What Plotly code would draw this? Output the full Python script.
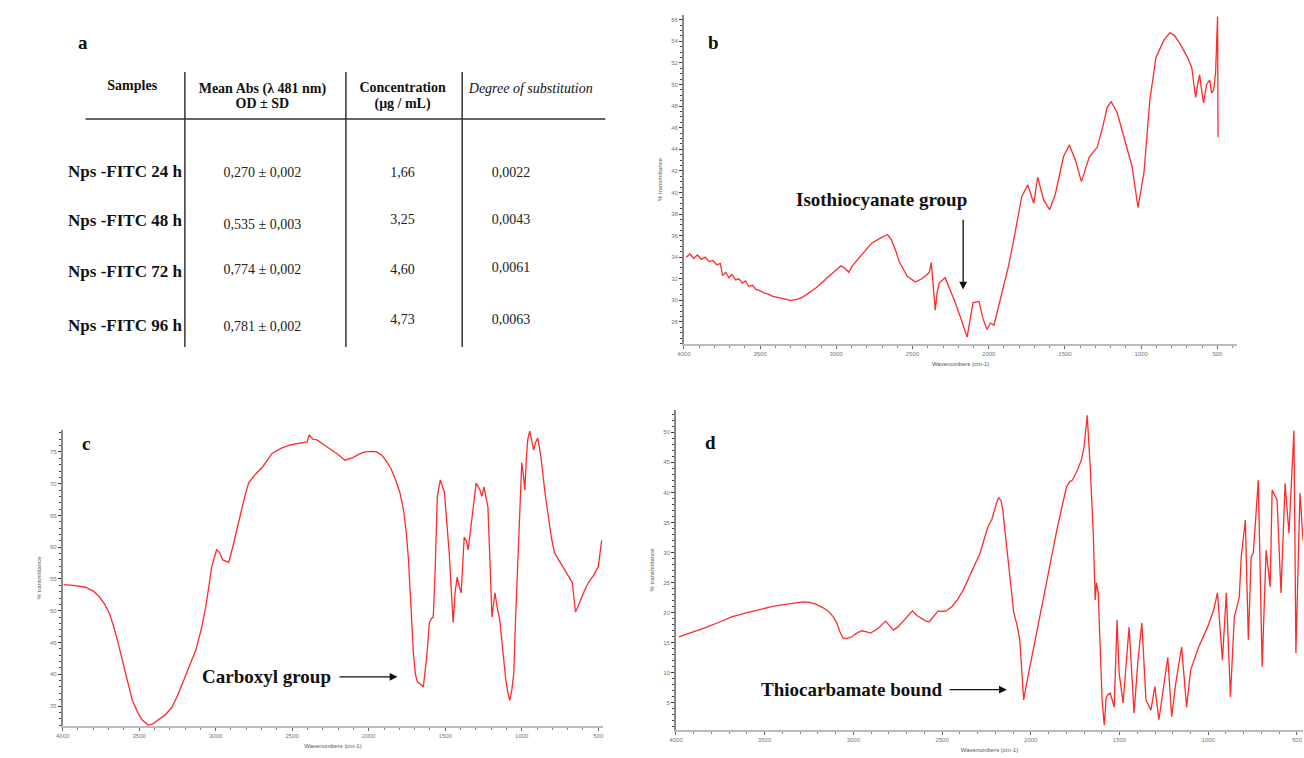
import plotly.graph_objects as go

W, H = 1304, 758

# ---------------- Panel a : table data ----------------
samples = ["Nps -FITC 24 h", "Nps -FITC 48 h", "Nps -FITC 72 h", "Nps -FITC 96 h"]
mean_abs = ["0,270 ± 0,002", "0,535 ± 0,003", "0,774 ± 0,002", "0,781 ± 0,002"]
concentration = ["1,66", "3,25", "4,60", "4,73"]
degree = ["0,0022", "0,0043", "0,0061", "0,0063"]
headers_line1 = ["Samples", "Mean Abs (λ 481 nm)", "Concentration", "Degree of substitution"]
headers_line2 = ["OD ± SD", "(μg / mL)"]

# ---------------- Panel b : FTIR spectrum ----------------
b_wn = [3985, 3960, 3935, 3910, 3885, 3860, 3835, 3810, 3785, 3760, 3746, 3725, 3705, 3685,
        3660, 3640, 3615, 3595, 3575, 3550, 3525, 3500, 3475, 3450, 3420, 3390, 3361, 3330,
        3300, 3257, 3220, 3179, 3130, 3074, 3020, 2970, 2945, 2918, 2895, 2866, 2820, 2768,
        2720, 2664, 2638, 2610, 2585, 2533, 2481, 2440, 2403, 2390, 2377, 2365, 2351, 2338,
        2325, 2286, 2250, 2220, 2180, 2142, 2120, 2103, 2064, 2040, 2012, 1990, 1966, 1914,
        1870, 1836, 1784, 1744, 1705, 1679, 1640, 1601, 1562, 1510, 1471, 1432, 1392, 1365,
        1340, 1288, 1250, 1223, 1197, 1158, 1112, 1060, 1021, 982, 943, 903, 851, 812, 780,
        747, 700, 669, 656, 643, 630, 617, 604, 591, 571, 551, 538, 525, 512, 499, 496]
b_t = [34.0, 34.3, 33.9, 34.2, 33.8, 34.0, 33.6, 33.7, 33.3, 33.4, 32.3, 32.6, 32.1, 32.4,
       31.9, 32.0, 31.6, 31.8, 31.3, 31.4, 31.0, 30.9, 30.7, 30.6, 30.4, 30.3, 30.2, 30.1,
       30.0, 30.1, 30.3, 30.7, 31.2, 31.9, 32.6, 33.2, 33.0, 32.6, 33.2, 33.7, 34.5, 35.3,
       35.7, 36.1, 35.6, 34.6, 33.5, 32.2, 31.7, 32.0, 32.4, 32.6, 33.5, 31.0, 29.1, 30.8,
       31.6, 32.1, 30.9, 29.8, 28.2, 26.6, 28.4, 29.8, 29.9, 28.4, 27.3, 27.9, 27.7, 30.7,
       33.2, 35.6, 39.6, 40.7, 39.0, 41.4, 39.3, 38.4, 39.9, 43.3, 44.4, 43.0, 41.0, 42.2,
       43.3, 44.2, 46.2, 47.9, 48.4, 47.4, 45.1, 42.4, 38.6, 41.8, 48.6, 52.5, 54.1, 54.8, 54.5,
       53.8, 52.6, 51.6, 50.2, 48.8, 50.0, 50.9, 49.5, 48.3, 50.0, 50.4, 49.2, 49.5, 51.1, 56.3, 45.1]

# ---------------- Panel c : FTIR spectrum ----------------
c_wn = [3994, 3930, 3851, 3800, 3760, 3725, 3695, 3670, 3643, 3591, 3545, 3510, 3480, 3442,
        3410, 3377, 3330, 3286, 3250, 3208, 3170, 3130, 3095, 3065, 3045, 3026, 2994, 2975,
        2954, 2915, 2889, 2860, 2837, 2810, 2785, 2740, 2695, 2660, 2630, 2570, 2513, 2450,
        2402, 2389, 2365, 2338, 2300, 2260, 2200, 2156, 2104, 2060, 2026, 1980, 1948, 1915,
        1889, 1855, 1824, 1795, 1773, 1755, 1740, 1725, 1708, 1695, 1682, 1665, 1643, 1620,
        1604, 1590, 1578, 1565, 1552, 1532, 1506, 1490, 1474, 1460, 1448, 1435, 1422, 1410,
        1396, 1376, 1362, 1350, 1325, 1298, 1273, 1260, 1247, 1221, 1208, 1195, 1185, 1175,
        1160, 1143, 1125, 1104, 1090, 1078, 1065, 1052, 1040, 1026, 1012, 1000, 990, 980, 970,
        961, 948, 935, 922, 910, 896, 883, 870, 848, 825, 805, 786, 755, 721, 690, 669, 659,
        649, 635, 617, 590, 565, 530, 500, 488, 478]
c_t = [54.1, 54.0, 53.7, 53.1, 52.2, 51.0, 49.6, 47.8, 45.4, 40.2, 35.9, 34.0, 32.8, 32.0,
       32.2, 32.8, 33.6, 34.8, 36.6, 39.1, 41.3, 43.8, 47.0, 50.6, 53.8, 56.9, 59.6, 59.2,
       58.0, 57.6, 60.0, 63.0, 65.4, 68.0, 70.1, 71.5, 72.6, 73.8, 74.8, 75.6, 76.1, 76.4,
       76.6, 77.7, 77.0, 76.9, 76.2, 75.6, 74.6, 73.7, 74.1, 74.7, 75.0, 75.1, 75.0, 74.5,
       73.7, 72.4, 70.6, 68.5, 65.9, 62.5, 58.0, 50.0, 43.3, 40.0, 38.8, 38.5, 38.0, 43.0,
       48.1, 48.8, 49.0, 57.0, 67.9, 70.6, 68.7, 64.0, 59.1, 53.0, 48.1, 53.0, 55.3, 54.0,
       52.8, 61.6, 61.0, 59.6, 64.5, 70.1, 69.0, 68.0, 69.5, 66.3, 58.0, 49.0, 51.0, 52.8,
       50.5, 48.5, 44.0, 39.1, 37.0, 35.9, 37.5, 40.2, 49.0, 58.0, 66.0, 73.3, 71.5, 69.0, 74.0,
       76.9, 78.3, 77.0, 75.3, 76.5, 77.2, 75.5, 73.3, 68.5, 64.3, 61.3, 59.1, 57.8, 56.4, 55.3, 54.4, 52.0,
       49.8, 50.5, 51.7, 53.2, 54.4, 55.6, 56.9, 59.0, 61.1]

# ---------------- Panel d : FTIR spectrum ----------------
d_wn = [3983, 3900, 3826, 3750, 3686, 3600, 3518, 3460, 3401, 3340, 3283, 3245, 3210, 3175,
        3143, 3115, 3093, 3075, 3059, 3040, 3009, 2980, 2953, 2925, 2902, 2860, 2818, 2795,
        2774, 2750, 2723, 2695, 2667, 2640, 2617, 2590, 2572, 2545, 2522, 2500, 2477, 2445,
        2415, 2380, 2348, 2315, 2286, 2260, 2242, 2220, 2202, 2190, 2180, 2168, 2158, 2140,
        2118, 2096, 2078, 2062, 2050, 2040, 2025, 2012, 1995, 1978, 1950, 1917, 1885, 1850,
        1825, 1799, 1780, 1766, 1740, 1715, 1700, 1682, 1665, 1648, 1637, 1630, 1620, 1605,
        1598, 1586, 1575, 1553, 1530, 1514, 1502, 1480, 1446, 1418, 1396, 1374, 1351, 1323,
        1301, 1278, 1256, 1228, 1206, 1183, 1150, 1122, 1099, 1054, 1004, 970, 948, 920, 898,
        875, 853, 825, 814, 791, 774, 758, 746, 718, 696, 674, 651, 640, 612, 590, 567, 545,
        517, 506, 483, 466]
d_t = [16.0, 16.8, 17.6, 18.5, 19.3, 20.0, 20.6, 21.0, 21.3, 21.6, 21.8, 21.7, 21.4, 20.9,
       20.3, 19.4, 18.3, 16.8, 15.8, 15.7, 16.0, 16.6, 17.0, 16.8, 16.6, 17.4, 18.6, 17.8,
       17.1, 17.6, 18.5, 19.5, 20.3, 19.5, 19.1, 18.6, 18.5, 19.5, 20.3, 20.2, 20.3, 21.0,
       22.1, 23.8, 25.8, 27.8, 29.9, 32.5, 34.2, 35.5, 37.6, 38.5, 39.1, 38.7, 37.1, 32.0,
       26.6, 20.0, 18.0, 15.5, 10.0, 5.5, 8.0, 10.0, 12.5, 15.0, 19.5, 24.3, 29.0, 34.2,
       37.5, 40.9, 41.8, 42.0, 43.5, 45.4, 47.5, 52.8, 44.2, 33.2, 22.1, 25.0, 23.3, 12.0,
       5.5, 1.3, 6.0, 6.7, 4.3, 18.8, 10.0, 5.0, 17.6, 3.3, 12.1, 18.3, 5.5, 3.8,
       7.7, 2.2, 7.2, 12.6, 2.7, 8.3, 14.3, 4.3, 10.5, 14.3, 17.6, 20.4, 23.3, 12.1, 23.3,
       6.0, 19.3, 22.6, 29.3, 35.4, 15.5, 29.3, 29.9, 42.0, 11.0, 30.4, 24.3, 40.4, 38.7, 23.3, 41.5, 33.2,
       50.3, 13.3, 39.9, 32.1]

b_yticks = list(range(28, 57, 2))
c_yticks = list(range(35, 76, 5))
d_yticks = list(range(5, 51, 5))
x_ticks = [4000, 3500, 3000, 2500, 2000, 1500, 1000, 500]

RED = "#ff2a2a"
SERIF = "Liberation Serif, Times New Roman, serif"

fig = go.Figure()

fig.add_trace(go.Scatter(x=b_wn, y=b_t, mode="lines", line=dict(color=RED, width=1.3),
                         xaxis="x", yaxis="y", showlegend=False, hoverinfo="skip"))
fig.add_trace(go.Scatter(x=c_wn, y=c_t, mode="lines", line=dict(color=RED, width=1.3),
                         xaxis="x2", yaxis="y2", showlegend=False, hoverinfo="skip"))
fig.add_trace(go.Scatter(x=d_wn, y=d_t, mode="lines", line=dict(color=RED, width=1.3),
                         xaxis="x3", yaxis="y3", showlegend=False, hoverinfo="skip"))

# ---------------- table (panel a) on a pixel-like axis ----------------
col_x = [176, 257, 398, 507]          # layout: column anchor positions
row_y_label = [173, 222, 273, 327]
row_y_abs = [173, 225, 270, 327]
row_y_conc = [173, 220, 270, 320]
row_y_deg = [173, 220, 268, 320]
tfont = dict(family=SERIF, size=14, color="#222")


def txt(xs, ys, texts, pos, font):
    fig.add_trace(go.Scatter(x=xs, y=ys, mode="text", text=texts, textposition=pos,
                             textfont=font, xaxis="x5", yaxis="y5",
                             showlegend=False, hoverinfo="skip"))


txt([col_x[0]] * 4, row_y_label, ["<b>" + s + "</b>" for s in samples], "middle left",
    dict(family=SERIF, size=17, color="#111"))
txt([col_x[1]] * 4, row_y_abs, mean_abs, "middle center", tfont)
txt([col_x[2]] * 4, row_y_conc, concentration, "middle center", tfont)
txt([col_x[3]] * 4, row_y_deg, degree, "middle center", tfont)
hfont = dict(family=SERIF, size=14, color="#111")
txt([126, 257, 398], [86, 89, 88], ["<b>" + h + "</b>" for h in headers_line1[:3]],
    "middle center", hfont)
txt([527], [89], ["<i>" + headers_line1[3] + "</i>"], "middle center", hfont)
txt([257, 398], [104, 104], ["<b>" + h + "</b>" for h in headers_line2], "middle center", hfont)

shapes = [
    dict(type="line", xref="x5", yref="y5", x0=79, x1=602, y0=119, y1=119,
         line=dict(color="#666", width=2)),
]
for vx in [179, 341, 458]:
    shapes.append(dict(type="line", xref="x5", yref="y5", x0=vx, x1=vx, y0=72, y1=347,
                       line=dict(color="#333", width=1.5)))

tickfont = dict(family="Arial", size=6, color="#777")
titlefont = dict(family="Arial", size=6, color="#555")


def xax(dom, rng, anchor):
    return dict(domain=dom, range=rng, anchor=anchor, showgrid=False, zeroline=False,
                showline=True, linecolor="#bbb", linewidth=1.5, tickvals=x_ticks,
                ticks="outside", ticklen=3, tickcolor="#666", tickfont=tickfont,
                minor=dict(ticks="outside", ticklen=2, tickcolor="#888", dtick=100),
                title=dict(text="Wavenumbers (cm-1)", font=titlefont, standoff=6))


def yax(dom, rng, anchor, tv, mdt):
    return dict(domain=dom, range=rng, anchor=anchor, showgrid=False, zeroline=False,
                showline=True, linecolor="#888", linewidth=1.5, tickvals=tv,
                ticks="outside", ticklen=3, tickcolor="#333", tickfont=tickfont,
                minor=dict(ticks="outside", ticklen=2, tickcolor="#444", dtick=mdt),
                title=dict(text="% transmittance", font=titlefont, standoff=8))


def px(x):
    return x / W


def py(y):
    return 1 - y / H


def plabel(t, x, y):
    return dict(text="<b>" + t + "</b>", x=px(x), y=py(y), xref="paper", yref="paper",
                xanchor="center", yanchor="middle", showarrow=False,
                font=dict(family=SERIF, size=19, color="#111"))


afont = dict(family=SERIF, size=19, color="#111")
annotations = [
    plabel("a", 76, 43), plabel("b", 711, 42), plabel("c", 79, 443), plabel("d", 708, 442),
    # panel b label + arrow
    dict(text="<b>Isothiocyanate group</b>", x=2703, y=39.3, xref="x", yref="y",
         xanchor="center", showarrow=False, font=afont),
    dict(text="", x=2168, y=31.0, ax=2168, ay=37.6, xref="x", yref="y", axref="x", ayref="y",
         showarrow=True, arrowhead=2, arrowsize=1.2, arrowwidth=1.3, arrowcolor="#111"),
    # panel c
    dict(text="<b>Carboxyl group</b>", x=2235, y=39.6, xref="x2", yref="y2", xanchor="right",
         showarrow=False, font=afont),
    dict(text="", x=1812, y=39.6, ax=2201, ay=39.6, xref="x2", yref="y2", axref="x2", ayref="y2",
         showarrow=True, arrowhead=2, arrowsize=1.2, arrowwidth=1.3, arrowcolor="#111"),
    # panel d
    dict(text="<b>Thiocarbamate bound</b>", x=2490, y=7.2, xref="x3", yref="y3", xanchor="right",
         showarrow=False, font=afont),
    dict(text="", x=2135, y=7.2, ax=2466, ay=7.2, xref="x3", yref="y3", axref="x3", ayref="y3",
         showarrow=True, arrowhead=2, arrowsize=1.2, arrowwidth=1.3, arrowcolor="#111"),
]

fig.update_layout(
    width=W, height=H, margin=dict(l=0, r=0, t=0, b=0),
    paper_bgcolor="white", plot_bgcolor="white", showlegend=False,
    xaxis=xax([px(681), px(1238)], [4000, 369], "y"),
    yaxis=yax([py(344), py(15)], [25.96, 56.43], "x", b_yticks, 0.5),
    xaxis2=xax([px(56), px(600)], [4000, 467], "y2"),
    yaxis2=yax([py(726), py(430)], [31.85, 78.46], "x2", c_yticks, 1),
    xaxis3=xax([px(673), 1.0], [4000, 466], "y3"),
    yaxis3=yax([py(730), py(410)], [0.5, 53.7], "x3", d_yticks, 1),
    xaxis5=dict(domain=[0, 0.5], range=[0, 652], anchor="y5", visible=False),
    yaxis5=dict(domain=[0.5, 1], range=[379, 0], anchor="x5", visible=False),
    shapes=shapes, annotations=annotations,
)

fig.write_html("out.html", config={"displayModeBar": False},
               post_script="document.body.style.margin='0px';document.body.style.overflow='hidden';")
